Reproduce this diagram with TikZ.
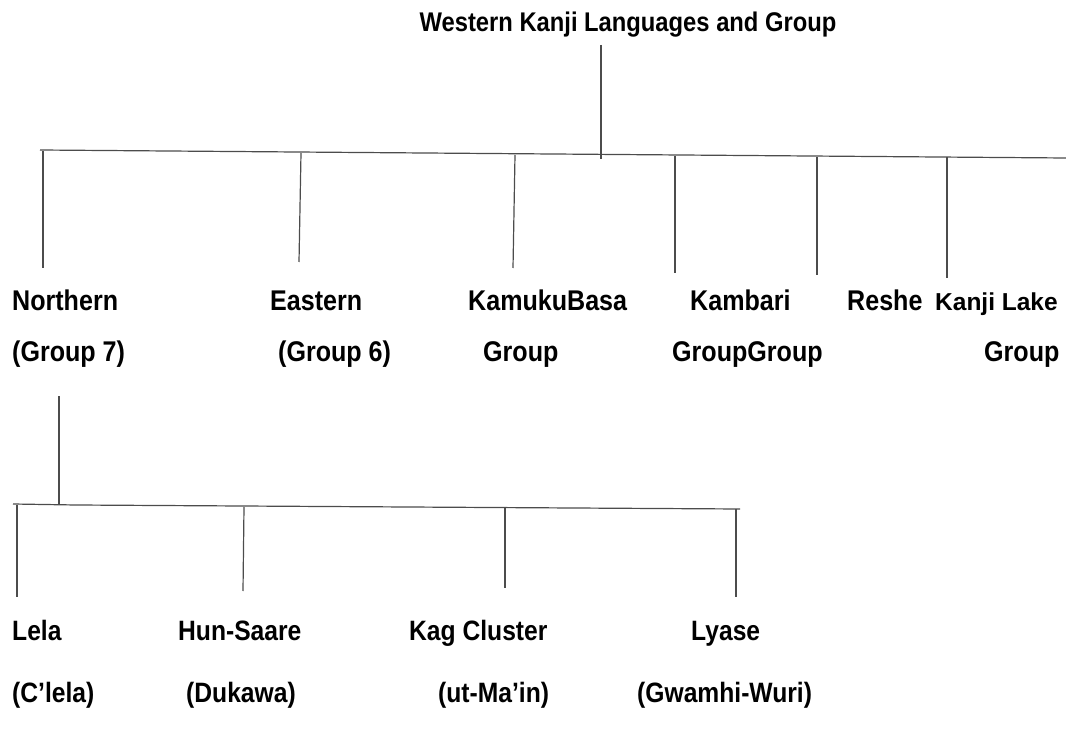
\documentclass[tikz,border=0pt]{standalone}
\usepackage{fontspec}
\setmainfont{Liberation Sans}[FakeStretch=0.88]
\newfontfamily\plainsans{Liberation Sans}
\begin{document}
\begin{tikzpicture}[x=1pt,y=-1pt,
  lbl/.style={anchor=base west,inner sep=0pt,font=\bfseries\fontsize{28.5}{32}\selectfont},
  lblb/.style={anchor=base west,inner sep=0pt,font=\bfseries\fontsize{28}{32}\selectfont},
  small/.style={anchor=base west,inner sep=0pt,font=\plainsans\bfseries\fontsize{24.5}{28}\selectfont},
  ttl/.style={anchor=base,inner sep=0pt,font=\bfseries\fontsize{27}{30}\selectfont},
  ln/.style={draw=black!70,line width=1.2pt}]
\useasboundingbox (0,0) rectangle (1066,735);
% title
\node[ttl] (title) at (628,32) {Western Kanji Languages and Group};
% level 1 labels
\node[lbl] (n1) at (12,311) {Northern};
\node[lbl] (n1b) at (12,362) {(Group 7)};
\node[lbl] (e1) at (270,311) {Eastern};
\node[lbl] (e1b) at (278,362) {(Group 6)};
\node[lbl] (k1) at (468,311) {KamukuBasa};
\node[lbl] (k1b) at (483,362) {Group};
\node[lbl] (b1) at (690,311) {Kambari};
\node[lbl] (b1b) at (672,362) {GroupGroup};
\node[lbl] (r1) at (847,311) {Reshe};
\node[small] (l1) at (935,311) {Kanji Lake};
\node[lbl] (l1b) at (984,362) {Group};
% level 2 labels
\node[lblb] (a2) at (12,640) {Lela};
\node[lblb] (a2b) at (12,702) {(C’lela)};
\node[lblb] (h2) at (178,640) {Hun-Saare};
\node[lblb] (h2b) at (186,702) {(Dukawa)};
\node[lblb] (c2) at (409,640) {Kag Cluster};
\node[lblb] (c2b) at (438,702) {(ut-Ma’in)};
\node[lblb] (y2) at (691,640) {Lyase};
\node[lblb] (y2b) at (637,702) {(Gwamhi-Wuri)};
% coordinates
\coordinate (ts) at (601,45);
\coordinate (te) at (601,159);
\coordinate (barL) at (40,150);
\coordinate (barR) at (1066,158);
\coordinate (d1t) at (43,151);  \coordinate (d1b) at (43,268);
\coordinate (d2t) at (301,153); \coordinate (d2b) at (299,262);
\coordinate (d3t) at (515,155); \coordinate (d3b) at (513,268);
\coordinate (d4t) at (675,156); \coordinate (d4b) at (675,273);
\coordinate (d5t) at (817,157); \coordinate (d5b) at (817,275);
\coordinate (d6t) at (947,157); \coordinate (d6b) at (947,278);
\coordinate (s2t) at (59,396);  \coordinate (s2b) at (59,505);
\coordinate (bar2L) at (13,504); \coordinate (bar2M) at (76,505); \coordinate (bar2R) at (740,509);
\coordinate (f1t) at (17,505);  \coordinate (f1b) at (17,597);
\coordinate (f2t) at (244,507); \coordinate (f2b) at (243,591);
\coordinate (f3t) at (505,508); \coordinate (f3b) at (505,588);
\coordinate (f4t) at (736,509); \coordinate (f4b) at (736,597);
% lines
\draw[ln] (ts) -- (te);
\draw[ln] (barL) -- (barR);
\foreach \i in {1,...,6} { \draw[ln] (d\i t) -- (d\i b); }
\draw[ln] (s2t) -- (s2b);
\draw[ln] (bar2L) -- (bar2M) -- (bar2R);
\foreach \i in {1,...,4} { \draw[ln] (f\i t) -- (f\i b); }
\end{tikzpicture}
\end{document}
